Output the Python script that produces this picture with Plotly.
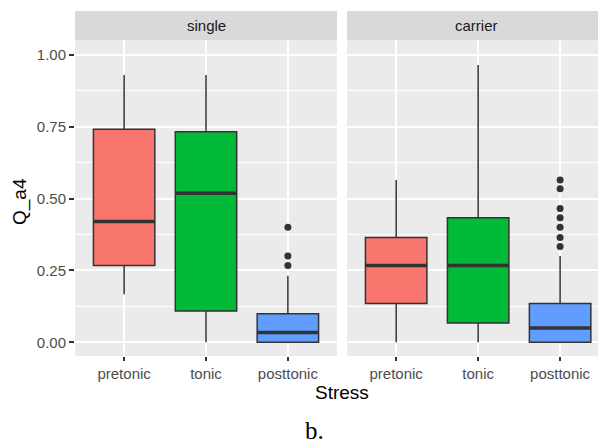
import plotly.graph_objects as go

categories = ["pretonic", "tonic", "posttonic"]
panels = ["single", "carrier"]
colors = ["#F8766D", "#00BA38", "#619CFF"]

# box statistics per panel: [pretonic, tonic, posttonic]
single_low = [0.167, 0.0, 0.0]
single_q1 = [0.267, 0.109, 0.0]
single_med = [0.420, 0.519, 0.034]
single_q3 = [0.741, 0.733, 0.099]
single_high = [0.930, 0.930, 0.232]
single_outliers = [[], [], [0.40, 0.30, 0.267]]

carrier_low = [0.0, 0.0, 0.0]
carrier_q1 = [0.135, 0.067, 0.0]
carrier_med = [0.267, 0.267, 0.050]
carrier_q3 = [0.365, 0.433, 0.135]
carrier_high = [0.565, 0.965, 0.30]
carrier_outliers = [[], [], [0.565, 0.534, 0.466, 0.433, 0.40, 0.365, 0.333]]

y_ticks = [0.0, 0.25, 0.5, 0.75, 1.0]
y_ticklabels = ["0.00", "0.25", "0.50", "0.75", "1.00"]

BOX_W = 0.75
OFF = 8  # page body margin in the browser
W, H = 606 - OFF, 447 - OFF
ML, MR, MT, MB = 75 - OFF, 0, 40 - OFF, 91
plot_w = W - ML - MR
plot_h = H - MT - MB


def px_x(xref_px):
    return (xref_px - OFF - ML) / plot_w


def px_y(yref_px):
    return (MT + plot_h - (yref_px - OFF)) / plot_h


fig = go.Figure()

data = {
    "single": (single_low, single_q1, single_med, single_q3, single_high, single_outliers, "x", "y"),
    "carrier": (carrier_low, carrier_q1, carrier_med, carrier_q3, carrier_high, carrier_outliers, "x2", "y2"),
}

for pname in panels:
    low, q1, med, q3, high, outl, xa, ya = data[pname]
    for i, cat in enumerate(categories):
        pos = i + 1
        fig.add_trace(go.Box(
            x=[pos], q1=[q1[i]], median=[med[i]], q3=[q3[i]],
            lowerfence=[low[i]], upperfence=[high[i]],
            width=BOX_W, whiskerwidth=0, boxpoints=False,
            fillcolor=colors[i], line=dict(color="#333333", width=1.5),
            xaxis=xa, yaxis=ya, showlegend=False, hoverinfo="skip",
        ))
        fig.add_trace(go.Scatter(
            x=[pos - BOX_W / 2, pos + BOX_W / 2], y=[med[i], med[i]],
            mode="lines", line=dict(color="#333333", width=3.5),
            xaxis=xa, yaxis=ya, showlegend=False, hoverinfo="skip",
        ))
        if outl[i]:
            fig.add_trace(go.Scatter(
                x=[pos] * len(outl[i]), y=outl[i], mode="markers",
                marker=dict(color="#333333", size=7),
                xaxis=xa, yaxis=ya, showlegend=False, hoverinfo="skip",
            ))

gap = 10
d1_end = 262 / plot_w
d2_start = (262 + gap) / plot_w
yrange = [-0.0477, 1.052]

xcommon = dict(
    tickmode="array", tickvals=[1, 2, 3], ticktext=categories,
    showgrid=True, gridcolor="white", gridwidth=1.6,
    zeroline=False, showline=False,
    ticks="outside", ticklen=4, tickwidth=1.5, tickcolor="#333333",
    tickfont=dict(family="Liberation Sans, Arial", size=15, color="#4D4D4D"),
)
ycommon = dict(
    range=yrange, tickmode="array", tickvals=y_ticks,
    showgrid=True, gridcolor="white", gridwidth=1.6, zeroline=False, showline=False,
    minor=dict(tickmode="array", tickvals=[0.125, 0.375, 0.625, 0.875],
               showgrid=True, gridcolor="white", gridwidth=0.7, ticks=""),
)

fig.update_layout(
    width=W, height=H,
    margin=dict(l=ML, r=MR, t=MT, b=MB, pad=0),
    paper_bgcolor="white", plot_bgcolor="#EBEBEB",
    xaxis=dict(domain=[0, d1_end], range=[0.4, 3.6], anchor="y", **xcommon),
    xaxis2=dict(domain=[d2_start, 1], range=[0.4, 3.56], anchor="y2", **xcommon),
    yaxis=dict(domain=[0, 1], anchor="x", ticktext=y_ticklabels,
               ticks="outside", ticklen=5, tickwidth=1.5, tickcolor="#333333",
               tickfont=dict(family="Liberation Sans, Arial", size=15, color="#4D4D4D"),
               **ycommon),
    yaxis2=dict(domain=[0, 1], anchor="x2", showticklabels=False, ticks="", **ycommon),
)

strip_top = 1 + 29 / plot_h
for pname, (x0, x1) in zip(panels, [(0, d1_end), (d2_start, 1)]):
    fig.add_shape(type="rect", xref="paper", yref="paper", x0=x0, x1=x1,
                  y0=1, y1=strip_top, fillcolor="#D9D9D9", line=dict(width=0), layer="below")
    fig.add_annotation(text=pname, xref="paper", yref="paper", x=(x0 + x1) / 2,
                       y=(1 + strip_top) / 2, showarrow=False, xanchor="center", yanchor="middle",
                       font=dict(family="Liberation Sans, Arial", size=15, color="#1A1A1A"))

# axis titles
fig.add_annotation(text="Stress", xref="paper", yref="paper",
                   x=px_x(341.7), y=px_y(392),
                   showarrow=False, xanchor="center", yanchor="middle",
                   font=dict(family="Liberation Sans, Arial", size=19, color="black"))
fig.add_annotation(text="Q_a4", xref="paper", yref="paper",
                   x=px_x(20), y=px_y(202),
                   showarrow=False, xanchor="center", yanchor="middle", textangle=-90,
                   font=dict(family="Liberation Sans, Arial", size=19, color="black"))
fig.add_annotation(text="b.", xref="paper", yref="paper",
                   x=px_x(314), y=px_y(430),
                   showarrow=False, xanchor="center", yanchor="middle",
                   font=dict(family="Liberation Serif, Times New Roman", size=25, color="black"))

fig.write_html("out.html")
